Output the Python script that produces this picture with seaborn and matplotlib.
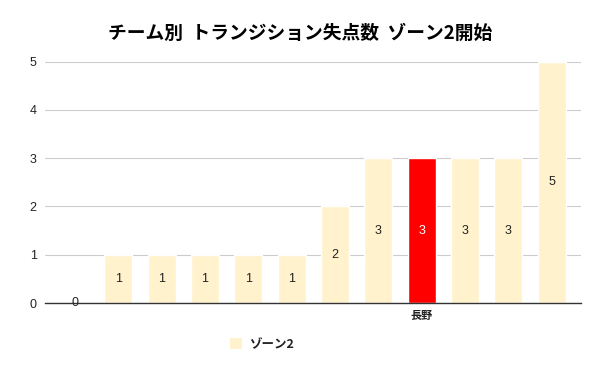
import matplotlib
matplotlib.use("Agg")
import matplotlib.pyplot as plt
import seaborn as sns
import pandas as pd
from matplotlib.patches import Patch

teams = ["t1", "t2", "t3", "t4", "t5", "t6", "t7", "t8", "長野", "t10", "t11", "t12"]
tick_labels = ["", "", "", "", "", "", "", "", "長野", "", "", ""]
values = [0, 1, 1, 1, 1, 1, 2, 3, 3, 3, 3, 5]
highlight = "長野"
series_name = "ゾーン2"
title = "チーム別  トランジション失点数  ゾーン2開始"

base_color = "#FFF2CC"
hi_color = "#FF0000"

sns.set_theme(style="white")
plt.rcParams['font.family'] = ['Noto Sans CJK JP', 'DejaVu Sans']

df = pd.DataFrame({"team": teams, "value": values})
palette = {t: (hi_color if t == highlight else base_color) for t in teams}

fig = plt.figure(figsize=(6, 3.71), dpi=100)
ax = fig.add_axes([0.075, 0.183, 0.893, 0.651])
sns.barplot(data=df, x="team", y="value", hue="team", palette=palette,
            order=teams, legend=False, width=0.645, ax=ax, saturation=1)

ax.set_ylim(0, 5)
ax.set_xlim(-0.69, len(teams) - 1 + 0.67)
ax.set_yticks(range(0, 6))
ax.set_yticklabels([str(v) for v in range(0, 6)], family=["Liberation Sans", "DejaVu Sans"])
ax.yaxis.grid(True, color="#cccccc", linewidth=0.8)
ax.set_axisbelow(True)
for s in ["top", "right", "left"]:
    ax.spines[s].set_visible(False)
ax.spines["bottom"].set_color("#333333")
ax.spines["bottom"].set_linewidth(1.0)
ax.set_xticks(range(len(teams)))
ax.set_xticklabels(tick_labels, fontsize=8, fontweight="bold", color="#222222")
ax.tick_params(axis="y", labelsize=9, colors="#222222", length=0, pad=6)
ax.tick_params(axis="x", length=0, pad=4)
ax.set_xlabel("")
ax.set_ylabel("")

for i, (t, v) in enumerate(zip(teams, values)):
    col = "white" if t == highlight else "#222222"
    ax.text(i, max(v / 2, 0.0), str(v), ha="center", va="center", fontsize=9, color=col,
            family=["Liberation Sans", "DejaVu Sans"])

fig.suptitle(title, x=0.5, y=0.935, fontsize=13.5, fontweight="bold", color="#000000")

handles = [Patch(facecolor=base_color, edgecolor="none", label=series_name)]
leg = fig.legend(handles=handles, loc="center", bbox_to_anchor=(0.437, 0.072),
                 frameon=False, fontsize=9, handlelength=0.9, handleheight=0.9,
                 handletextpad=0.6)
for txt in leg.get_texts():
    txt.set_fontweight("bold")
    txt.set_color("#222222")

fig.savefig("out.png", dpi=100)
